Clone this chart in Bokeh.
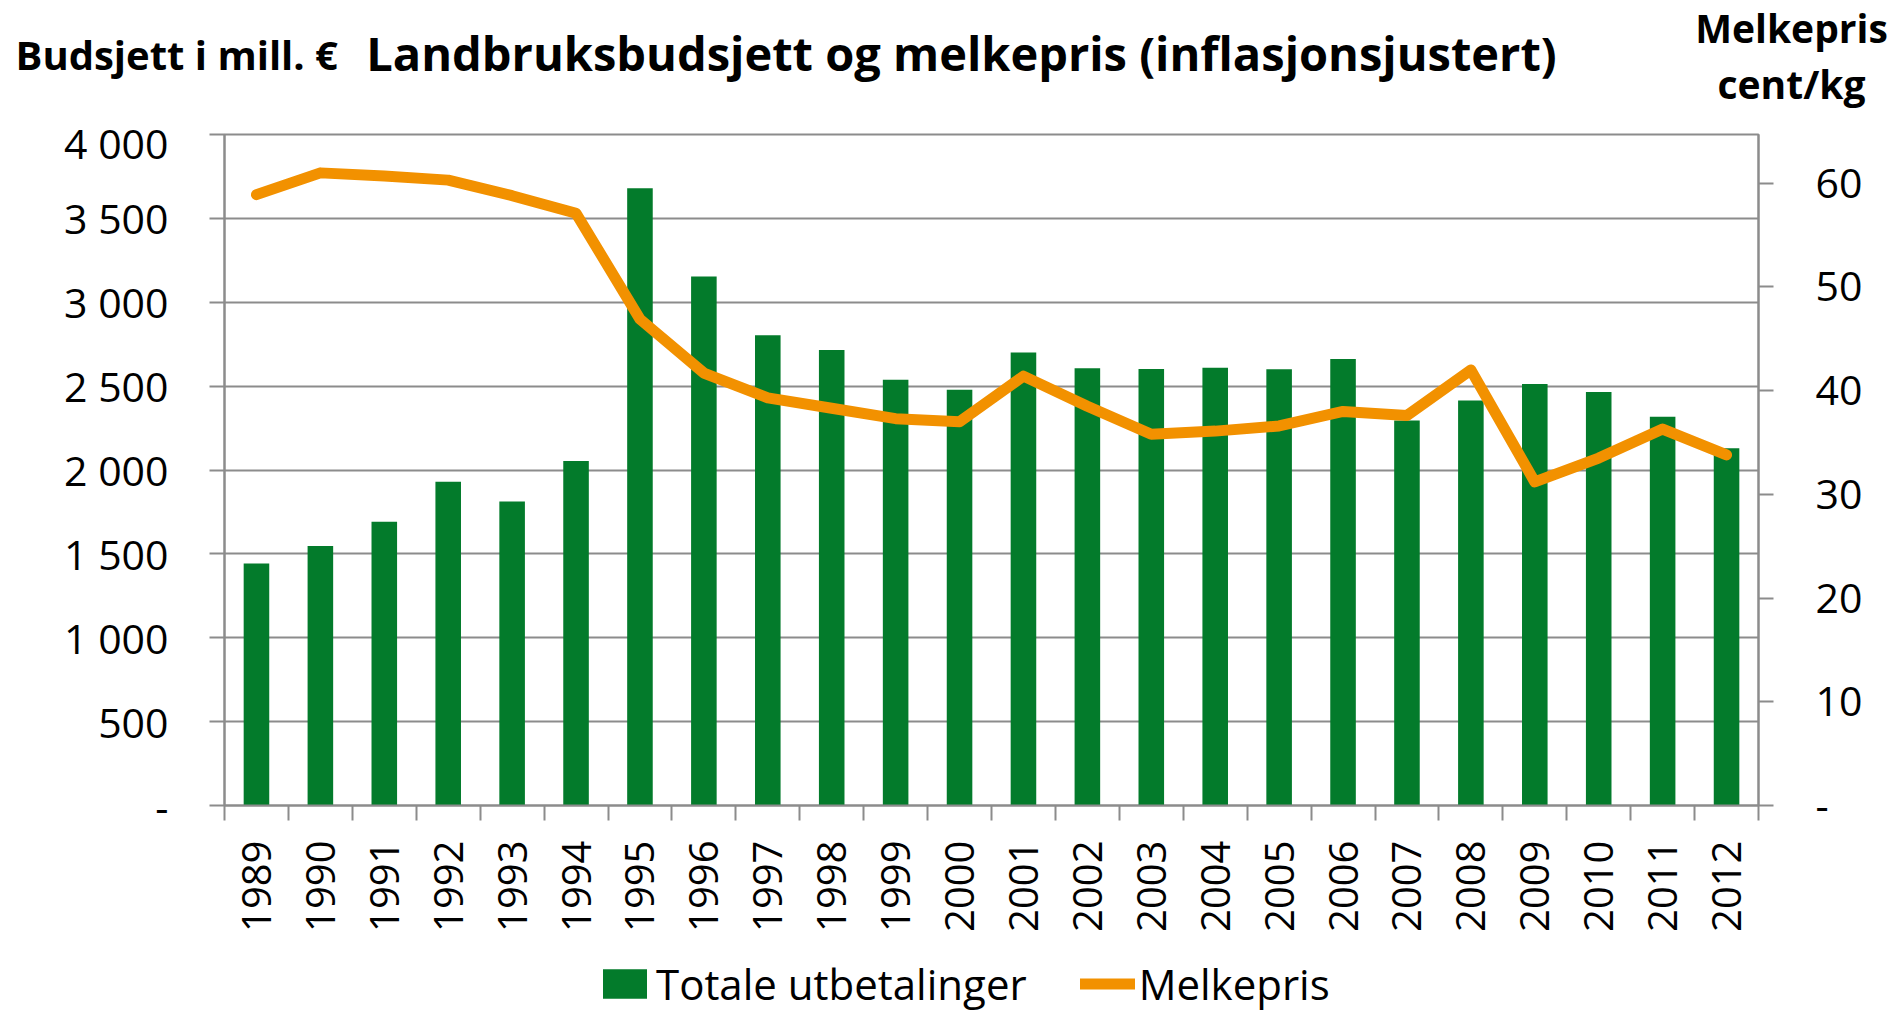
import math
from bokeh.plotting import figure
from bokeh.layouts import column
from bokeh.models import Range1d, LinearAxis, FixedTicker, Legend, LegendItem, Label
from bokeh.embed import file_html
from bokeh.resources import INLINE

# ---------------- data ----------------
years = ["1989", "1990", "1991", "1992", "1993", "1994", "1995", "1996",
         "1997", "1998", "1999", "2000", "2001", "2002", "2003", "2004",
         "2005", "2006", "2007", "2008", "2009", "2010", "2011", "2012"]
budget = [1442, 1547, 1692, 1930, 1812, 2054, 3680, 3153,
          2804, 2716, 2538, 2479, 2700, 2606, 2602, 2609,
          2601, 2661, 2295, 2414, 2513, 2465, 2317, 2130]
milk_price = [58.9, 61.0, 60.7, 60.3, 58.8, 57.1, 46.9, 41.7,
              39.3, 38.3, 37.3, 37.0, 41.4, 38.5, 35.8, 36.1,
              36.6, 38.0, 37.6, 42.0, 31.2, 33.5, 36.3, 33.8]
left_ticks = [0, 500, 1000, 1500, 2000, 2500, 3000, 3500, 4000]
left_tick_labels = ["-", "500", "1 000", "1 500", "2 000", "2 500", "3 000", "3 500", "4 000"]
right_ticks = [0, 10, 20, 30, 40, 50, 60]
right_tick_labels = ["-", "10", "20", "30", "40", "50", "60"]
title_text = "Landbruksbudsjett og melkepris (inflasjonsjustert)"
left_axis_title = "Budsjett i mill. €"
right_axis_title = ["Melkepris", "cent/kg"]
legend_labels = ["Totale utbetalinger", "Melkepris"]

GREEN = "#037B2B"
ORANGE = "#F29100"
GRID = "#8C8C8C"
FONT = "Open Sans"
W = 1895


def text_strip(height):
    f = figure(width=W, height=height, output_backend="svg", toolbar_location=None,
               x_range=Range1d(-3, -2), y_range=Range1d(-3, -2),
               x_axis_location=None, y_axis_location=None,
               min_border=0, min_border_left=0, min_border_right=0,
               min_border_top=0, min_border_bottom=0)
    f.frame_align = False
    f.outline_line_color = None
    f.grid.grid_line_color = None
    return f


# ---------------- header (texts) ----------------
hdr = text_strip(114)
hdr.add_layout(Label(x=961, y=62, x_units="screen", y_units="screen", text=title_text,
                     text_font=FONT, text_font_style="bold", text_font_size="47px",
                     text_align="center", text_baseline="alphabetic", text_color="black"))
hdr.add_layout(Label(x=15, y=60, x_units="screen", y_units="screen", text=left_axis_title,
                     text_font=FONT, text_font_style="bold", text_font_size="40px",
                     text_align="left", text_baseline="alphabetic", text_color="black"))
hdr.add_layout(Label(x=1791, y=87, x_units="screen", y_units="screen", text=right_axis_title[0],
                     text_font=FONT, text_font_style="bold", text_font_size="39px",
                     text_align="center", text_baseline="alphabetic", text_color="black"))
hdr.add_layout(Label(x=1791, y=31, x_units="screen", y_units="screen", text=right_axis_title[1],
                     text_font=FONT, text_font_style="bold", text_font_size="39px",
                     text_align="center", text_baseline="alphabetic", text_color="black"))

# ---------------- main chart ----------------
xs = list(range(1, len(years) + 1))
boundaries = [x - 0.5 for x in xs] + [xs[-1] + 0.5]

p = figure(width=W, height=826, output_backend="svg", toolbar_location=None,
           x_range=Range1d(0.5, len(years) + 0.5), y_range=Range1d(0, 4000),
           min_border_left=224, min_border_right=137, min_border_top=20,
           min_border_bottom=135)
p.frame_align = False
p.outline_line_color = GRID
p.outline_line_width = 2
p.background_fill_color = "white"
p.extra_y_ranges = {"price": Range1d(0, 64.7)}

bars = p.vbar(x=xs, top=budget, width=0.4, color=GREEN, line_color=None)
line = p.line(x=xs, y=milk_price, y_range_name="price", color=ORANGE,
              line_width=11, line_cap="round", line_join="round")

xa = p.xaxis[0]
xa.ticker = FixedTicker(ticks=xs, minor_ticks=boundaries)
xa.major_label_overrides = {x: y for x, y in zip(xs, years)}
xa.major_label_orientation = math.pi / 2
xa.major_tick_out = 0
xa.major_tick_in = 0
xa.minor_tick_out = 15
xa.minor_tick_in = 0
xa.minor_tick_line_color = GRID
xa.minor_tick_line_width = 2
xa.axis_line_color = GRID
xa.axis_line_width = 2
xa.major_label_text_font = FONT
xa.major_label_text_font_size = "40px"
xa.major_label_text_color = "black"
xa.major_label_standoff = 20

ya = p.yaxis[0]
ya.ticker = FixedTicker(ticks=left_ticks)
ya.major_label_overrides = {t: l for t, l in zip(left_ticks, left_tick_labels)}
ya.major_tick_out = 15
ya.major_tick_in = 0
ya.minor_tick_out = 0
ya.minor_tick_in = 0
ya.major_tick_line_color = GRID
ya.major_tick_line_width = 2
ya.axis_line_color = GRID
ya.axis_line_width = 2
ya.major_label_text_font = FONT
ya.major_label_text_font_size = "41px"
ya.major_label_text_color = "black"
ya.major_label_standoff = 41

ra = LinearAxis(y_range_name="price", ticker=FixedTicker(ticks=right_ticks))
ra.major_label_overrides = {t: l for t, l in zip(right_ticks, right_tick_labels)}
ra.major_tick_out = 15
ra.major_tick_in = 0
ra.minor_tick_out = 0
ra.minor_tick_in = 0
ra.major_tick_line_color = GRID
ra.major_tick_line_width = 2
ra.axis_line_color = GRID
ra.axis_line_width = 2
ra.major_label_text_font = FONT
ra.major_label_text_font_size = "41px"
ra.major_label_text_color = "black"
ra.major_label_standoff = 42
p.add_layout(ra, "right")

p.xgrid.grid_line_color = None
p.ygrid.grid_line_color = GRID
p.ygrid.grid_line_width = 2

# ---------------- legend strip ----------------
lg = text_strip(72)
# same series drawn outside the visible range of this strip: only their legend keys show
lbar = lg.vbar(x=xs, top=budget, width=0.4, color=GREEN, line_color=None)
lline = lg.line(x=xs, y=milk_price, color=ORANGE, line_width=11, line_cap="round")
legend = Legend(items=[LegendItem(label=legend_labels[0], renderers=[lbar]),
                       LegendItem(label=legend_labels[1], renderers=[lline])],
                orientation="horizontal", location=(597, 0))
legend.background_fill_alpha = 0
legend.border_line_color = None
legend.padding = 0
legend.margin = 0
legend.spacing = 53
legend.label_standoff = 4
legend.glyph_width = 55
legend.glyph_height = 37
legend.label_text_font = FONT
legend.label_text_font_size = "42px"
legend.label_text_color = "black"
legend.label_text_baseline = "middle"
lg.add_layout(legend)

layout = column(hdr, p, lg, spacing=0)
open("out.html", "w").write(file_html(layout, INLINE))
